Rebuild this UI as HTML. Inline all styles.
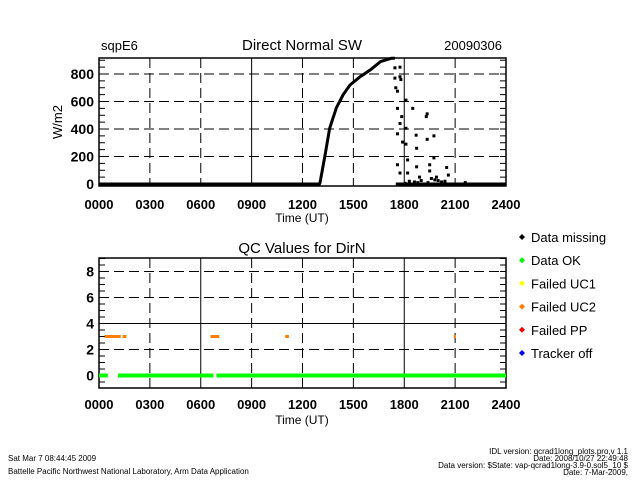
<!DOCTYPE html>
<html><head><meta charset="utf-8"><style>
body{margin:0;background:#fff;}
svg{display:block;font-family:"Liberation Sans",sans-serif;}
</style></head><body>
<svg id="c" width="640" height="480" viewBox="0 0 640 480" xmlns="http://www.w3.org/2000/svg">
<rect width="640" height="480" fill="#fff"/>
<g id="topPlot"></g>
<g id="botPlot"></g>
<text x="101" y="50" font-size="13">sqpE6</text>
<text x="302" y="50" font-size="15" text-anchor="middle">Direct Normal SW</text>
<text x="502" y="50" font-size="13" text-anchor="end">20090306</text>
<text transform="translate(62,122) rotate(-90)" font-size="13" text-anchor="middle">W/m2</text>
<text x="302" y="222" font-size="12" text-anchor="middle">Time (UT)</text>
<text x="302" y="253" font-size="15" text-anchor="middle">QC Values for DirN</text>
<text x="302" y="424" font-size="12" text-anchor="middle">Time (UT)</text>
<g id="legG"></g>
<g font-size="8">
<text x="8" y="461">Sat Mar  7 08:44:45 2009</text>
<text x="8" y="474">Battelle Pacific Northwest National Laboratory, Arm Data Application</text>
<text x="628" y="454" text-anchor="end">IDL version: qcrad1long_plots.pro,v 1.1</text>
<text x="628" y="461" text-anchor="end">Date: 2008/10/27 22:49:48</text>
<text x="628" y="468" text-anchor="end">Data version: $State: vap-qcrad1long-3.9-0.sol5_10 $</text>
<text x="628" y="475" text-anchor="end">Date: 7-Mar-2009,</text>
</g>
</svg>
<script>
const xTicks = ["0000","0300","0600","0900","1200","1500","1800","2100","2400"];
const topYTicks = [0,200,400,600,800];
const qcYTicks = [0,2,4,6,8];
const curveHours = [0,13.0,13.03,13.33,13.6,14.0,14.4,14.8,15.4,16.0,16.6,17.25,17.45];
const curveValues = [0,0,7,210,405,555,650,720,780,830,890,915,915];
const zeroHours = [17.5,24];
const zeroValues = [0,0];
const scatterHours = [17.45,17.45,17.5,17.6,17.75,17.75,17.8,17.6,17.85,17.75,17.6,17.9,18.1,18.1,18.1,18.5,19.35,19.3,19.75,18.7,19.35,18.73,19.75,18.2,17.6,19.5,18.73,20.5,17.75,18.2,19.5,18.9,19.9,20.6,21.6,18.3,18.6,19.0,19.4,19.8,20.2,20.4,18.05,18.8,19.6,20.0];
const scatterValues = [845,770,700,675,850,780,760,550,490,440,365,305,610,405,290,550,510,490,350,355,325,260,190,175,140,140,125,120,80,80,95,50,50,65,10,20,15,25,10,30,15,20,5,10,40,25];
const qcOkStart = [0,1.12,6.93];
const qcOkEnd = [0.52,6.75,24];
const qcUc2Start = [0.34,1.39,6.57,10.98,20.92];
const qcUc2End = [1.28,1.62,7.09,11.2,21.03];
const legendLabels = ["Data missing","Data OK","Failed UC1","Failed UC2","Failed PP","Tracker off"];
const legendColors = ["#000","#00ff00","#ffff00","#ff8000","#ff0000","#0000ff"];

const NS="http://www.w3.org/2000/svg";
function mk(p,t,a){const e=document.createElementNS(NS,t);for(const k in a)e.setAttribute(k,a[k]);p.appendChild(e);return e;}
const X0=99,X1=506;
const xs=h=>X0+(X1-X0)*h/24;
const topY=v=>184-v*0.1375;
const qcY=v=>375.5-v*13.0;

function frame(g,y0,y1,yfn,yticks,minorStep,ymin,ymax,hSolid,vSolid,labelY,prefix){
  yticks.forEach(v=>{ if(v===yticks[0]) return;
    const l=mk(g,'line',{x1:X0,x2:X1,y1:yfn(v),y2:yfn(v),stroke:'#000','stroke-width':1,'stroke-dasharray':hSolid.includes(v)?'none':'10,5'});
    
    
  });
  xTicks.forEach((t,i)=>{ if(i===0||i===8) return;
    const x=xs(i*3);
    const l=mk(g,'line',{x1:x,x2:x,y1:y0,y2:y1,stroke:'#000','stroke-width':1,'stroke-dasharray':vSolid.includes(i*3)?'none':'10,5'});
    
    
  });
  for(let v=ymin;v<=ymax+1e-9;v+=minorStep){
    const y=yfn(v); if(y<y0||y>y1) continue;
    mk(g,'line',{x1:X0,x2:X0+6,y1:y,y2:y,stroke:'#000'});
    mk(g,'line',{x1:X1-6,x2:X1,y1:y,y2:y,stroke:'#000'});
  }
  const b=mk(g,'rect',{x:X0,y:y0,width:X1-X0,height:y1-y0,fill:'none',stroke:'#000','stroke-width':1.5});
  
  
  yticks.forEach(v=>{
    const t=mk(g,'text',{x:94,y:yfn(v)+5,'font-size':14,'font-weight':'bold','text-anchor':'end'});
    t.textContent=v;
    
    
  });
  xTicks.forEach((s,i)=>{
    const t=mk(g,'text',{x:xs(i*3),y:labelY,'font-size':13,'font-weight':'bold','text-anchor':'middle'});
    t.textContent=s;
    
    
  });
}
const topG=document.getElementById('topPlot');
frame(topG,58,186,topY,topYTicks,50,-50,915,[],[9,18],209,'top');
const pts=curveHours.map((h,i)=>xs(h)+','+topY(curveValues[i])).join(' ');
const pl=mk(topG,'polyline',{points:pts,fill:'none',stroke:'#000','stroke-width':3});


const zl=mk(topG,'polyline',{points:zeroHours.map((h,i)=>xs(h)+','+topY(zeroValues[i])).join(' '),fill:'none',stroke:'#000','stroke-width':3});


scatterHours.forEach((h,i)=>{
  const r=mk(topG,'rect',{x:xs(h)-1.5,y:topY(scatterValues[i])-1.5,width:3,height:3,fill:'#000'});
  
  
});
const botG=document.getElementById('botPlot');
frame(botG,258,388,qcY,qcYTicks,0.5,-1,9,[4],[6,18],409,'qc');
qcOkStart.forEach((s,i)=>{
  const r=mk(botG,'rect',{x:xs(s),y:qcY(0)-2,width:xs(qcOkEnd[i])-xs(s),height:4,fill:'#00ff00'});
  
  
});
qcUc2Start.forEach((s,i)=>{
  const r=mk(botG,'rect',{x:xs(s),y:qcY(3)-1.5,width:Math.max(2,xs(qcUc2End[i])-xs(s)),height:3,fill:'#ff8000'});
  
  
});
const legG=document.getElementById('legG');
legendLabels.forEach((s,i)=>{
  const y=237+i*23.2;
  const d=mk(legG,'path',{d:`M522 ${y-3}L525 ${y}L522 ${y+3}L519 ${y}Z`,fill:legendColors[i]});
  
  
  const t=mk(legG,'text',{x:531,y:y+5,'font-size':13});
  t.textContent=s;
  
  
});
</script>
</body></html>
